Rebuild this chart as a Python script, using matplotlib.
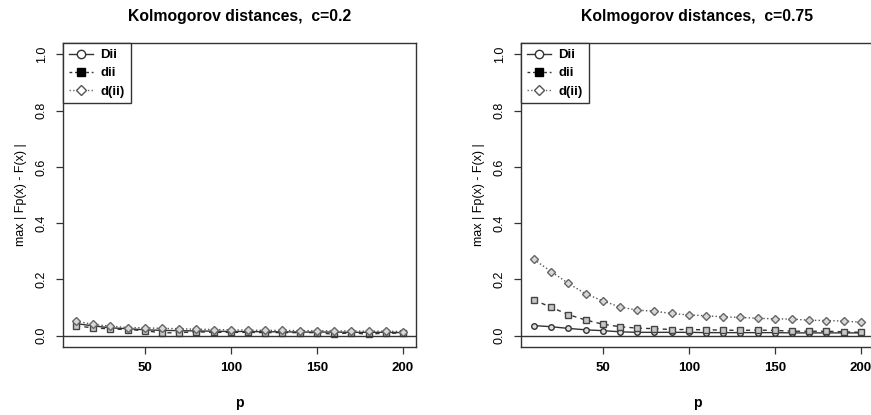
import numpy as np
import matplotlib
matplotlib.use("Agg")
import matplotlib.pyplot as plt
from matplotlib.lines import Line2D

plt.rcParams['font.family'] = ['Liberation Sans', 'DejaVu Sans']

p = [10, 20, 30, 40, 50, 60, 70, 80, 90, 100,
     110, 120, 130, 140, 150, 160, 170, 180, 190, 200]

# c = 0.2
Dii_02 = [0.043, 0.035, 0.028, 0.025, 0.021, 0.019, 0.018, 0.017, 0.016, 0.015,
          0.015, 0.014, 0.014, 0.013, 0.013, 0.013, 0.012, 0.012, 0.012, 0.011]
dii_02 = [0.035, 0.028, 0.024, 0.022, 0.018, 0.010, 0.011, 0.014, 0.012, 0.012,
          0.012, 0.011, 0.011, 0.011, 0.011, 0.005, 0.011, 0.005, 0.010, 0.008]
dii2_02 = [0.052, 0.040, 0.034, 0.029, 0.028, 0.026, 0.025, 0.023, 0.022, 0.021,
           0.020, 0.019, 0.019, 0.018, 0.018, 0.017, 0.017, 0.016, 0.016, 0.015]

# c = 0.75
Dii_075 = [0.036, 0.032, 0.026, 0.021, 0.018, 0.014, 0.012, 0.012, 0.012, 0.012,
           0.011, 0.011, 0.011, 0.011, 0.011, 0.010, 0.010, 0.010, 0.010, 0.010]
dii_075 = [0.127, 0.101, 0.075, 0.056, 0.041, 0.032, 0.027, 0.025, 0.022, 0.022,
           0.021, 0.020, 0.019, 0.020, 0.019, 0.016, 0.016, 0.016, 0.014, 0.012]
dii2_075 = [0.271, 0.228, 0.186, 0.149, 0.124, 0.102, 0.091, 0.087, 0.079, 0.074,
            0.071, 0.067, 0.065, 0.062, 0.060, 0.059, 0.055, 0.054, 0.052, 0.048]

panels = [("Kolmogorov distances,  c=0.2", Dii_02, dii_02, dii2_02),
          ("Kolmogorov distances,  c=0.75", Dii_075, dii_075, dii2_075)]

fig = plt.figure(figsize=(8.71, 4.15), dpi=100)
lefts = [0.0723, 0.598]
W, H, B = 0.4053, 0.7325, 0.1639

for left, (title, a, b, c) in zip(lefts, panels):
    ax = fig.add_axes([left, B, W, H])
    ax.plot(p, a, '-', color='#333333', lw=1.0, marker='o', ms=4,
            mfc='#dddddd', mec='#333333', mew=1.0)
    ax.plot(p, b, '--', color='#333333', lw=1.0, marker='s', ms=4,
            mfc='#c8c8c8', mec='#444444', mew=1.0, dashes=(3, 3))
    ax.plot(p, c, ':', color='#555555', lw=1.0, marker='D', ms=4.3,
            mfc='#d8d8d8', mec='#666666', mew=1.0)
    ax.axhline(0, color='#333333', lw=1.0)

    ax.set_xlim(2.4, 207.6)
    ax.set_ylim(-0.04, 1.04)
    ax.set_xticks([50, 100, 150, 200])
    ax.set_yticks([0.0, 0.2, 0.4, 0.6, 0.8, 1.0])
    ax.set_yticklabels(['0.0', '0.2', '0.4', '0.6', '0.8', '1.0'],
                       rotation=90, va='center', fontsize=9)
    ax.set_xticklabels(['50', '100', '150', '200'], fontsize=9.5,
                       fontweight='bold')
    ax.tick_params(length=5, width=0.9, color='#333333', pad=6)
    for s in ax.spines.values():
        s.set_color('#333333')
        s.set_linewidth(1.0)

    ax.set_title(title, fontsize=11.3, fontweight='bold', pad=16)
    ax.set_xlabel('p', fontsize=10, fontweight='bold', labelpad=16)
    ax.set_ylabel('max | Fp(x) - F(x) |', fontsize=9, labelpad=6)

    handles = [
        Line2D([], [], color='#333333', lw=1.0, marker='o', ms=6,
               mfc='white', mec='#333333'),
        Line2D([], [], color='#333333', lw=1.0, ls='--', dashes=(2, 2),
               marker='s', ms=6, mfc='black', mec='black'),
        Line2D([], [], color='#666666', lw=1.0, ls=':', marker='D', ms=5,
               mfc='white', mec='#555555'),
    ]
    leg = ax.legend(handles, ['Dii', 'dii', 'd(ii)'], loc='upper left',
                    borderaxespad=0, fancybox=False, edgecolor='#333333',
                    framealpha=1, handlelength=1.8, handletextpad=0.6,
                    labelspacing=0.45, borderpad=0.45,
                    prop={'size': 9.5, 'weight': 'bold'})
    leg.get_frame().set_linewidth(1.0)

fig.savefig('out.png', dpi=100)
